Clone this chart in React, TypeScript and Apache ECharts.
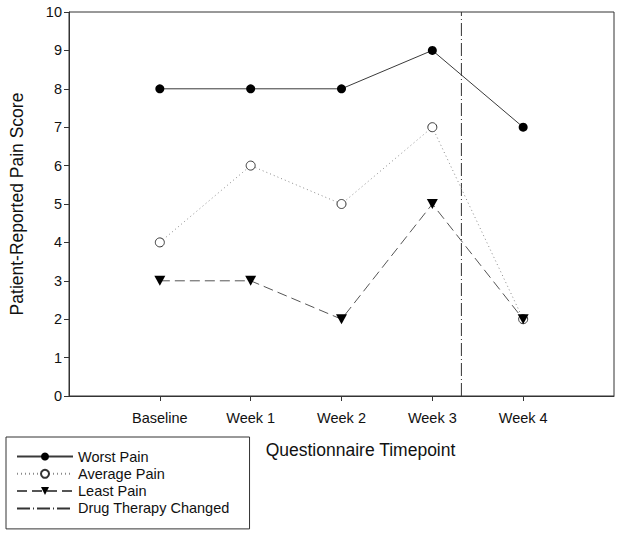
import React, { useEffect, useRef } from "react";
import * as echarts from "echarts";

const categories = ["Baseline", "Week 1", "Week 2", "Week 3", "Week 4"];
const worstPain = [8, 8, 8, 9, 7];
const averagePain = [4, 6, 5, 7, 2];
const leastPain = [3, 3, 2, 5, 2];
const drugChangeX = 4.32; // between Week 3 (4) and Week 4 (5)
const yTicks = [0, 1, 2, 3, 4, 5, 6, 7, 8, 9, 10];

const FONT = "'Liberation Sans', Arial, sans-serif";
const DOWN_TRI = "path://M0,0 L10,0 L5,9 Z";

export default function App() {
  const ref = useRef<HTMLDivElement>(null);
  useEffect(() => {
    document.body.style.margin = "0";
    if (!ref.current) return;
    const chart = echarts.init(ref.current, undefined, { renderer: "svg" });
    const toPts = (arr: number[]) => arr.map((v, i) => [i + 1, v]);
    const catPos = categories.map((_, i) => i + 1);
    chart.setOption({
      animation: false,
      backgroundColor: "#fff",
      textStyle: { fontFamily: FONT },
      grid: {
        left: 67,
        right: 7,
        top: 12,
        bottom: 139,
        show: true,
        borderColor: "#333",
        borderWidth: 1,
        backgroundColor: "transparent",
      },
      xAxis: {
        type: "value",
        min: 0,
        max: 6,
        interval: 1,
        name: "Questionnaire Timepoint",
        nameLocation: "middle",
        nameGap: 45,
        nameTextStyle: { fontSize: 17.5, color: "#111", fontFamily: FONT, padding: [0, 0, 0, 38] },
        axisLine: { lineStyle: { color: "#333", width: 1 } },
        axisTick: { show: true, length: 5, inside: false, customValues: catPos, lineStyle: { color: "#333" } },
        axisLabel: {
          customValues: catPos,
          formatter: (v: number) => categories[Math.round(v) - 1] ?? "",
          fontSize: 14.5,
          color: "#111",
          margin: 14,
          fontFamily: FONT,
        },
        splitLine: { show: false },
      },
      yAxis: {
        type: "value",
        min: yTicks[0],
        max: yTicks[yTicks.length - 1],
        interval: 1,
        name: "Patient-Reported Pain Score",
        nameLocation: "middle",
        nameGap: 43,
        nameTextStyle: { fontSize: 17.5, color: "#111", fontFamily: FONT },
        axisLine: { show: true, lineStyle: { color: "#333", width: 1 } },
        axisTick: { show: true, length: 5, inside: false, lineStyle: { color: "#333" } },
        axisLabel: { fontSize: 14.5, color: "#111", margin: 7, fontFamily: FONT },
        splitLine: { show: false },
      },
      legend: {
        orient: "vertical",
        left: 6,
        top: 437,
        padding: [12, 20, 13, 10],
        borderColor: "#333",
        borderWidth: 1,
        itemWidth: 56,
        itemHeight: 10,
        itemGap: 2.3,
        textStyle: { fontSize: 14.5, color: "#111", fontFamily: FONT, lineHeight: 14 },
        data: [
          "Worst Pain",
          "Average Pain",
          "Least Pain",
          { name: "Drug Therapy Changed", itemStyle: { opacity: 0 } },
        ],
      },
      series: [
        {
          name: "Worst Pain",
          type: "line",
          data: toPts(worstPain),
          symbol: "circle",
          symbolSize: 9,
          lineStyle: { color: "#3a3a3a", width: 1, type: "solid" },
          itemStyle: { color: "#000", borderColor: "#000", borderWidth: 0 },
          z: 5,
        },
        {
          name: "Average Pain",
          type: "line",
          data: toPts(averagePain),
          symbol: "circle",
          symbolSize: 9,
          lineStyle: { color: "#8a8a8a", width: 1, type: [1, 3] },
          itemStyle: { color: "#fff", borderColor: "#333", borderWidth: 1 },
          z: 4,
        },
        {
          name: "Least Pain",
          type: "line",
          data: toPts(leastPain),
          symbol: DOWN_TRI,
          symbolSize: [11, 10],
          lineStyle: { color: "#555", width: 1, type: [10, 5] },
          itemStyle: { color: "#000", borderWidth: 0 },
          z: 5,
        },
        {
          name: "Drug Therapy Changed",
          type: "line",
          data: [
            [drugChangeX, yTicks[0]],
            [drugChangeX, yTicks[yTicks.length - 1]],
          ],
          symbol: "none",
          lineStyle: { color: "#333", width: 1, type: [13, 3, 1, 3] },
          itemStyle: { color: "#333" },
          z: 3,
        },
      ],
    });
    return () => chart.dispose();
  }, []);
  return <div ref={ref} style={{ width: 621, height: 535 }} />;
}
